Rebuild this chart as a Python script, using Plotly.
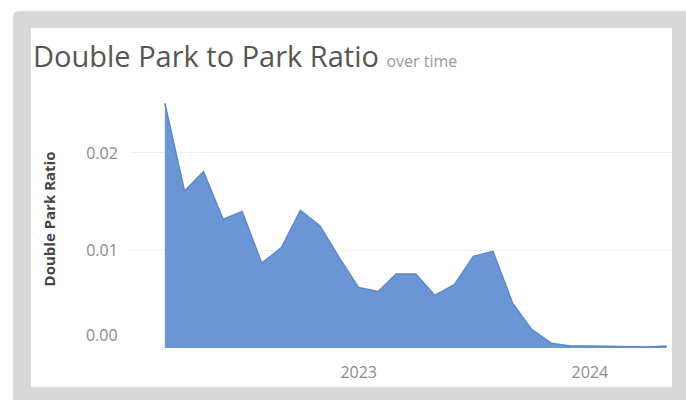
import plotly.graph_objects as go

months = ["2022-03-01", "2022-04-01", "2022-05-01", "2022-06-01", "2022-07-01", "2022-08-01",
          "2022-09-01", "2022-10-01", "2022-11-01", "2022-12-01", "2023-01-01", "2023-02-01",
          "2023-03-01", "2023-04-01", "2023-05-01", "2023-06-01", "2023-07-01", "2023-08-01",
          "2023-09-01", "2023-10-01", "2023-11-01", "2023-12-01", "2024-01-01", "2024-02-01",
          "2024-03-01", "2024-04-01", "2024-05-01"]
ratio = [0.0251, 0.0161, 0.0181, 0.0132, 0.0140, 0.0087,
         0.0103, 0.0141, 0.0125, 0.0093, 0.0062, 0.0058,
         0.0076, 0.0076, 0.0054, 0.0065, 0.0094, 0.0099,
         0.0046, 0.0019, 0.0005, 0.0002, 0.0002, 0.00015,
         0.0001, 0.0001, 0.0002]
y_ticks = [0.01, 0.02]
y_ticktext = ["0.01", "0.02"]
x_ticks = ["2023-01-01", "2024-01-01"]
x_ticktext = ["2023", "2024"]

W, H = 686, 400
L, R, T, B = 130, 15, 90, 52
pw, ph = W - L - R, H - T - B

def px(x):
    return (x - L) / pw

def py(y):
    return (H - B - y) / ph

fig = go.Figure()
fig.add_trace(go.Scatter(
    x=months, y=ratio, mode="lines", fill="tozeroy",
    line=dict(color="#5b88cf", width=1.5), fillcolor="#6a96d5",
    hoverinfo="x+y", showlegend=False,
))

def rounded(x0, y0, x1, y1, r):
    return (f"M {px(x0+r)},{py(y0)} L {px(x1-r)},{py(y0)} Q {px(x1)},{py(y0)} {px(x1)},{py(y0+r)} "
            f"L {px(x1)},{py(y1-r)} Q {px(x1)},{py(y1)} {px(x1-r)},{py(y1)} "
            f"L {px(x0+r)},{py(y1)} Q {px(x0)},{py(y1)} {px(x0)},{py(y1-r)} "
            f"L {px(x0)},{py(y0+r)} Q {px(x0)},{py(y0)} {px(x0+r)},{py(y0)} Z")

fig.add_shape(type="path", xref="paper", yref="paper", path=rounded(13, 11, 700, 420, 6),
              fillcolor="#d8d8d8", line=dict(width=0), layer="below")
fig.add_shape(type="rect", xref="paper", yref="paper", x0=px(31), x1=px(672), y0=py(387), y1=py(28),
              fillcolor="white", line=dict(width=0), layer="below")

fig.add_annotation(text="0.00", xref="paper", yref="y", x=px(120), y=0, xanchor="right",
                   yanchor="middle", yshift=13, showarrow=False,
                   font=dict(family="Open Sans", size=16, color="#8a8a8a"))

fig.update_layout(
    width=W, height=H,
    margin=dict(l=L, r=R, t=T, b=B),
    paper_bgcolor="white", plot_bgcolor="rgba(0,0,0,0)",
    title=dict(
        text="Double Park to Park Ratio <span style='font-size:16px;color:#9a9a9a'>over time</span>",
        x=33 / W, xanchor="left", xref="container",
        y=1 - 57 / H, yanchor="middle", yref="container",
        font=dict(family="Open Sans", size=29, color="#555555"),
    ),
    xaxis=dict(
        type="date", range=["2022-01-05", "2024-05-08"],
        tickvals=x_ticks, ticktext=x_ticktext,
        showgrid=False, zeroline=False, showline=False,
        ticks="outside", ticklen=10, tickcolor="rgba(0,0,0,0)",
        tickfont=dict(family="Open Sans", size=16, color="#8a8a8a"),
    ),
    yaxis=dict(
        range=[0, 0.02646],
        tickvals=y_ticks, ticktext=y_ticktext,
        showgrid=True, gridcolor="#efefef", gridwidth=1,
        zeroline=False, showline=False,
        ticks="outside", ticklen=8, tickcolor="rgba(0,0,0,0)",
        tickfont=dict(family="Open Sans", size=16, color="#8a8a8a"),
        title=dict(text="<b>Double Park Ratio</b>", standoff=26,
                   font=dict(family="Open Sans", size=15, color="#444444")),
    ),
)

fig.write_html("out.html", config={"displayModeBar": False},
               post_script="document.body.style.margin='0';document.body.style.overflow='hidden';")
